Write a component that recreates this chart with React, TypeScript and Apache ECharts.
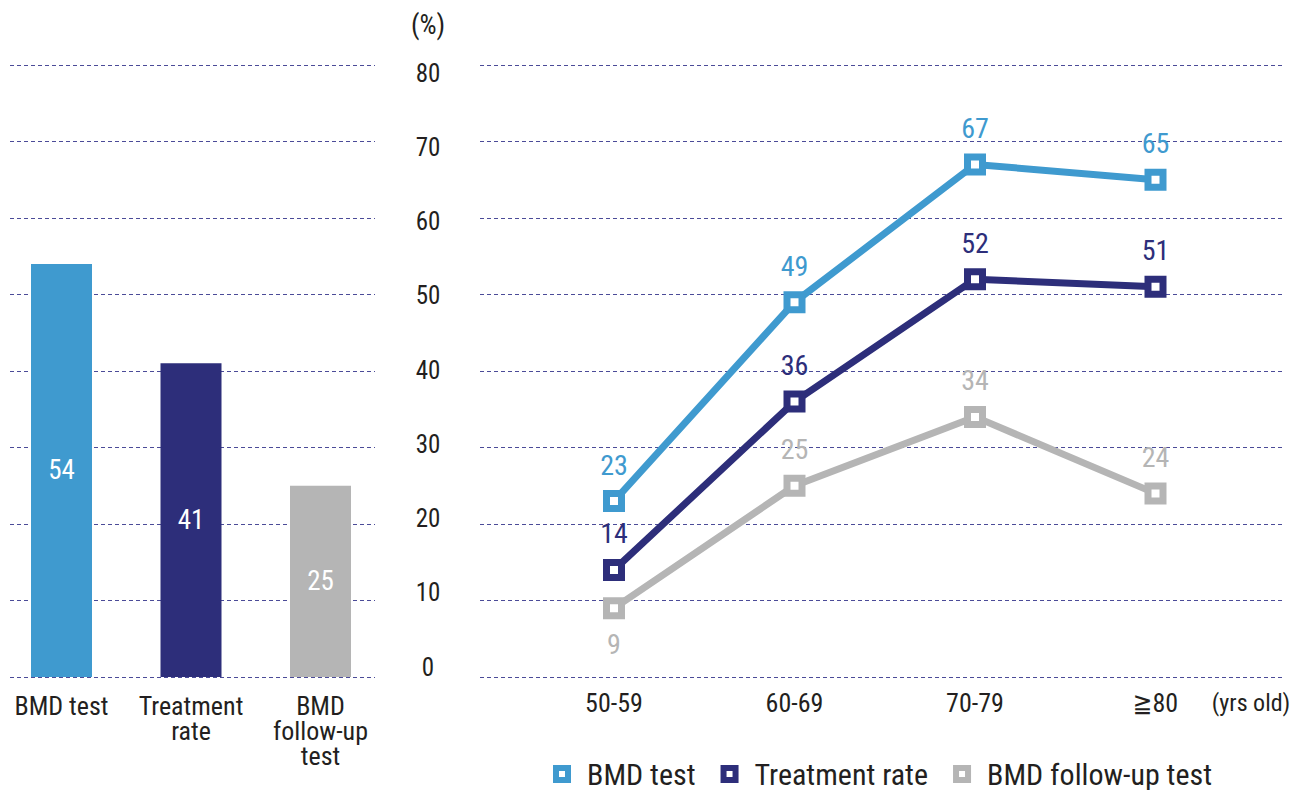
import React, { useEffect, useRef } from "react";
import * as echarts from "echarts";

// Overall rates (left panel)
const overallCategories = ["BMD test", "Treatment\nrate", "BMD\nfollow-up\ntest"];
const overallValues = [54, 41, 25];

// Rates by age group (right panel)
const ageGroups = ["50-59", "60-69", "70-79", "≧80"];
const bmdTest = [23, 49, 67, 65];
const treatmentRate = [14, 36, 52, 51];
const followUpTest = [9, 25, 34, 24];

const yTicks = { min: 0, max: 80, interval: 10 };

const BLUE = "#3f9acf";
const NAVY = "#2d2e7a";
const GRAY = "#b5b5b5";
const TEXT = "#231f20";
const GRID = "#4b4b98";
const FONT = "'Roboto Condensed', 'Liberation Sans Narrow', 'DejaVu Sans Condensed', Roboto, sans-serif";

const TOP = 65;
const HEIGHT = 612;

export default function App() {
  const ref = useRef<HTMLDivElement>(null);

  useEffect(() => {
    if (!ref.current) return;
    const chart = echarts.init(ref.current, undefined, { renderer: "svg" });

    const splitAxis = (gridIndex: number) => ({
      type: "value",
      gridIndex,
      min: yTicks.min,
      max: yTicks.max,
      interval: yTicks.interval,
      axisLine: { show: false },
      axisTick: { show: false },
      axisLabel: { show: false },
      splitLine: { show: true, lineStyle: { color: GRID, width: 1, type: [4, 3] } },
    });
    const hiddenX = (gridIndex: number) => ({ type: "value", gridIndex, min: 0, max: 1, show: false });

    const lineSeries = (name: string, data: number[], color: string, labelBelowFirst = false) => ({
      type: "line",
      name,
      xAxisIndex: 1,
      yAxisIndex: 1,
      data: data.map((v, i) =>
        labelBelowFirst && i === 0 ? { value: v, label: { position: "bottom" } } : v
      ),
      symbol: "rect",
      symbolSize: 15,
      lineStyle: { color, width: 7 },
      itemStyle: { color: "#fff", borderColor: color, borderWidth: 7 },
      label: {
        show: true,
        position: "top",
        distance: 11,
        color,
        fontSize: 28,
        fontFamily: FONT,
      },
      z: 3,
    });

    chart.setOption({
      animation: false,
      textStyle: { fontFamily: FONT },
      grid: [
        { left: 61.5, top: TOP, width: 259, height: HEIGHT },
        { left: 523.75, top: TOP, width: 722, height: HEIGHT },
        { left: 10, top: TOP, width: 365, height: HEIGHT },
        { left: 480, top: TOP, width: 805, height: HEIGHT },
        { left: 377, top: 73, width: 1, height: 594 },
      ],
      xAxis: [
        {
          type: "category",
          gridIndex: 0,
          boundaryGap: false,
          data: overallCategories,
          axisLine: { show: false },
          axisTick: { show: false },
          axisLabel: {
            interval: 0,
            color: TEXT,
            fontSize: 26,
            lineHeight: 25,
            margin: 16,
            fontFamily: FONT,
          },
        },
        {
          type: "category",
          gridIndex: 1,
          data: ageGroups,
          axisLine: { show: false },
          axisTick: { show: false },
          axisLabel: { interval: 0, color: TEXT, fontSize: 26, margin: 13, fontFamily: FONT },
        },
        hiddenX(2),
        hiddenX(3),
        hiddenX(4),
      ],
      yAxis: [
        { type: "value", gridIndex: 0, min: yTicks.min, max: yTicks.max, show: false },
        { type: "value", gridIndex: 1, min: yTicks.min, max: yTicks.max, show: false },
        splitAxis(2),
        splitAxis(3),
        {
          type: "value",
          gridIndex: 4,
          position: "right",
          min: yTicks.min,
          max: yTicks.max,
          interval: yTicks.interval,
          axisLine: { show: false },
          axisTick: { show: false },
          splitLine: { show: false },
          axisLabel: { color: TEXT, fontSize: 25, align: "center", margin: 50, fontFamily: FONT },
        },
      ],
      legend: {
        left: 553,
        top: 759,
        padding: 0,
        itemWidth: 12,
        itemHeight: 12,
        itemGap: 25,
        textStyle: {
          color: TEXT,
          fontSize: 30,
          lineHeight: 30,
          fontFamily: FONT,
          padding: [0, 0, 0, 14],
        },
        data: [
          { name: "BMD test", icon: "rect", itemStyle: { color: "#fff", borderColor: BLUE, borderWidth: 6 } },
          { name: "Treatment rate", icon: "rect", itemStyle: { color: "#fff", borderColor: NAVY, borderWidth: 6 } },
          { name: "BMD follow-up test", icon: "rect", itemStyle: { color: "#fff", borderColor: GRAY, borderWidth: 6 } },
        ],
      },
      graphic: [
        {
          type: "text",
          x: 428,
          y: 25,
          style: {
            text: "(%)",
            fill: TEXT,
            fontSize: 27,
            fontFamily: FONT,
            textAlign: "center",
            textVerticalAlign: "middle",
          },
        },
        {
          type: "text",
          x: 1251,
          y: 703,
          style: {
            text: "(yrs old)",
            fill: TEXT,
            fontSize: 24,
            fontFamily: FONT,
            textAlign: "center",
            textVerticalAlign: "middle",
          },
        },
      ],
      series: [
        {
          type: "bar",
          xAxisIndex: 0,
          yAxisIndex: 0,
          barWidth: 61,
          clip: false,
          data: overallValues.map((v, i) => ({
            value: v,
            itemStyle: { color: [BLUE, NAVY, GRAY][i] },
          })),
          label: { show: true, position: "inside", color: "#fff", fontSize: 27, fontFamily: FONT },
        },
        lineSeries("BMD test", bmdTest, BLUE),
        lineSeries("Treatment rate", treatmentRate, NAVY),
        lineSeries("BMD follow-up test", followUpTest, GRAY, true),
      ],
    });

    return () => chart.dispose();
  }, []);

  return (
    <div
      ref={ref}
      style={{ position: "fixed", left: 0, top: 0, width: 1293, height: 790, background: "#fff" }}
    />
  );
}
